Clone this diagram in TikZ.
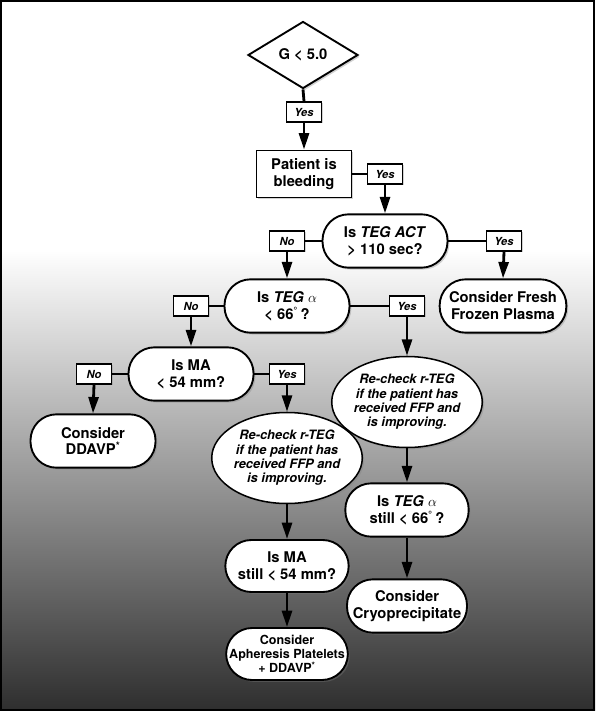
\documentclass[tikz,border=0pt]{standalone}
\usepackage{fontspec}
\setmainfont{TeX Gyre Heros}
\usetikzlibrary{shapes.geometric,shadows,arrows.meta}

\tikzset{
  box/.style={draw, line width=1.6pt, fill=white, align=center, inner sep=0pt,
    font=\bfseries\fontsize{12.6}{14.5}\selectfont,
    drop shadow={shadow xshift=1.6pt, shadow yshift=-1.6pt, opacity=.35}},
  capsule/.style={box, rounded corners=0.78cm, minimum width=3.75cm, minimum height=1.6cm},
  oval/.style={box, ellipse, line width=1.3pt, minimum width=3.6cm, minimum height=2.73cm,
    font=\bfseries\itshape\fontsize{11}{12.3}\selectfont},
  tag/.style={draw, line width=1.1pt, fill=white, minimum width=1.05cm, minimum height=0.6cm,
    inner sep=0pt, font=\bfseries\itshape\fontsize{9.5}{10}\selectfont,
    drop shadow={shadow xshift=1.2pt, shadow yshift=-1.2pt, opacity=.35}},
  link/.style={line width=2.4pt},
  arr/.style={link, -{Triangle[length=14pt, width=8.5pt]}}
}

\begin{document}
\begin{tikzpicture}[x=0.03cm, y=-0.03cm]
  \useasboundingbox (0,0) rectangle (595,711);
  % background
  \fill[white] (0,0) rectangle (595,711);
  \shade[top color=white, middle color=black!27, bottom color=black!82] (0,250) rectangle (595,711);
  \draw[line width=1.7pt] (1,1) rectangle (594,710);

  % decisions and actions
  \node[box, diamond, minimum width=3.3cm, minimum height=2.01cm] (g) at (303,55) {G < 5.0};
  \node[box, minimum width=2.85cm, minimum height=1.41cm] (bleed) at (304,174) {Patient is\\bleeding};
  \node[capsule] (act) at (385,241) {Is \textit{TEG ACT}\\> 110 sec?};
  \node[capsule, minimum width=3.8cm] (ffp) at (503,306) {Consider Fresh\\Frozen Plasma};
  \node[capsule] (alpha) at (287,306) {Is \textit{TEG} $\alpha$\\< 66\textsuperscript{\textdegree}\,?};
  \node[capsule] (ma) at (191,374) {Is MA\\< 54 mm?};
  \node[capsule] (ddavp) at (93,441) {Consider\\DDAVP\textsuperscript{*}};
  \node[oval] (recheckA) at (287,458) {Re-check r-TEG\\if the patient has\\received FFP and\\is improving.};
  \node[oval] (recheckB) at (407,402) {Re-check r-TEG\\if the patient has\\received FFP and\\is improving.};
  \node[capsule, minimum width=3.7cm] (alphaB) at (407,510) {Is \textit{TEG} $\alpha$\\still < 66\textsuperscript{\textdegree}\,?};
  \node[capsule, minimum width=3.6cm] (cryo) at (407,606) {Consider\\Cryoprecipitate};
  \node[capsule, minimum width=3.7cm, minimum height=1.56cm] (maB) at (287,566) {Is MA\\still < 54 mm?};
  \node[capsule, minimum width=3.65cm, minimum height=1.56cm,
    font=\bfseries\fontsize{10.7}{12}\selectfont] (aph) at (287,654) {Consider\\Apheresis Platelets\\+ DDAVP\textsuperscript{*}};

  % yes / no tags
  \node[tag] (yesA) at (304,112) {Yes};
  \node[tag] (yesB) at (385,174) {Yes};
  \node[tag] (noA) at (287,241) {No};
  \node[tag] (yesC) at (504,241) {Yes};
  \node[tag] (noB) at (191,306) {No};
  \node[tag] (yesD) at (407,306) {Yes};
  \node[tag] (noC) at (94,374) {No};
  \node[tag] (yesE) at (287,374) {Yes};

  % connectors
  \draw[link] (g.south) -- (yesA.north);
  \draw[arr] (yesA.south) -- (bleed.north);
  \draw[link] (bleed.east) -- (yesB.west);
  \draw[arr] (yesB.south) -- (act.north);
  \draw[link] (act.west) -- (noA.east);
  \draw[arr] (noA.south) -- (alpha.north);
  \draw[link] (act.east) -- (yesC.west);
  \draw[arr] (yesC.south) -- (ffp.north);
  \draw[link] (alpha.west) -- (noB.east);
  \draw[arr] (noB.south) -- (ma.north);
  \draw[link] (alpha.east) -- (yesD.west);
  \draw[arr] (yesD.south) -- (recheckB.north);
  \draw[link] (ma.west) -- (noC.east);
  \draw[arr] (noC.south) -- (ddavp.north);
  \draw[link] (ma.east) -- (yesE.west);
  \draw[arr] (yesE.south) -- (recheckA.north);
  \draw[arr] (recheckA.south) -- (maB.north);
  \draw[arr] (maB.south) -- (aph.north);
  \draw[arr] (recheckB.south) -- (alphaB.north);
  \draw[arr] (alphaB.south) -- (cryo.north);
\end{tikzpicture}
\end{document}
